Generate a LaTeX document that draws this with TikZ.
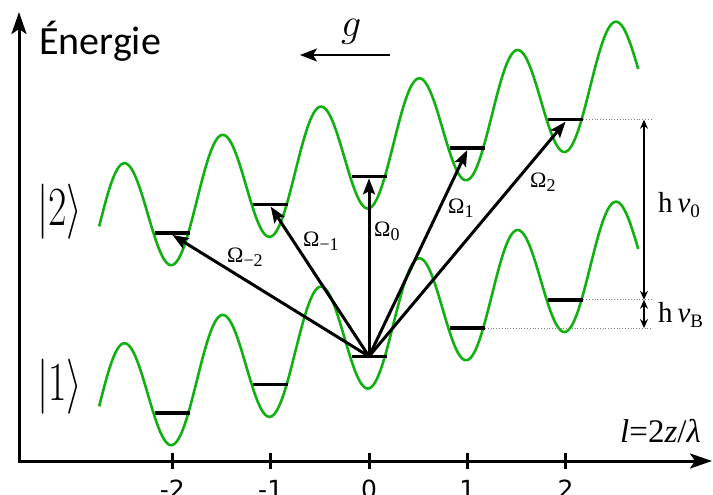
\documentclass[tikz,border=0pt]{standalone}
\usepackage{fix-cm}
\usepackage{fontspec}
\setmainfont{Liberation Serif}
\newfontfamily\carlito{Carlito}
\newfontfamily\dejavu{DejaVu Sans}
\usetikzlibrary{arrows.meta}
\definecolor{wavegreen}{RGB}{17,176,17}
\newcommand\lowsub[2]{#1\raisebox{-4pt}{\fontsize{18}{18}\selectfont #2}}
\begin{document}
\begin{tikzpicture}[x=1pt, y=-1pt,
  wave/.style={draw=wavegreen, line width=2.6pt},
  levelbar/.style={fill=black, inner sep=0pt, minimum width=35pt, minimum height=3.4pt},
  axisline/.style={line width=3pt, {Stealth[length=22pt,width=15pt,inset=5pt]}-{Stealth[length=22pt,width=15pt,inset=5pt]}},
  ticktick/.style={line width=3pt},
  transition/.style={line width=3pt, -{Stealth[length=16pt,width=12pt,inset=3pt]}},
  dimarrow/.style={line width=1.5pt, {Stealth[length=9pt,width=8pt]}-{Stealth[length=9pt,width=8pt]}},
  garrow/.style={line width=2pt, -{Stealth[length=17pt,width=13pt,inset=4pt]}},
  guide/.style={dotted, line width=0.8pt, gray},
  omega/.style={anchor=base west, inner sep=0pt, font=\fontsize{22}{22}\selectfont},
]
\useasboundingbox (0,0) rectangle (713,495);

% axes
\coordinate (O) at (19,461);
\coordinate (Ytop) at (19,12);
\coordinate (Xend) at (712,461);
\draw[axisline] (Ytop) -- (O) -- (Xend);

% ticks and tick labels
\foreach \u/\n in {-2/m2,-1/m1,0/z0,1/p1,2/p2} {
  \draw[ticktick] ({369+98.3*\u},453) -- ({369+98.3*\u},469);
  \node[font=\dejavu\fontsize{25}{25}\selectfont, anchor=base, inner sep=0pt] (tl\n) at ({369+98.3*\u},498) {\u};
}

% potential waves
\draw[wave] plot[domain=-2.745:2.74, samples=300] ({369+98.3*\x},{330.5-28.3*\x+57.9*cos(360*\x)});
\draw[wave] plot[domain=-2.745:2.74, samples=300] ({369+98.3*\x},{150.5-28.3*\x+57.9*cos(360*\x)});

% levels
\foreach \u/\n in {-2/m2,-1/m1,0/z0,1/p1,2/p2} {
  \node[levelbar] (L\n) at ({369+98.3*\u},{356.4-28.3*\u}) {};
  \node[levelbar] (U\n) at ({369+98.3*\u},{176.4-28.3*\u}) {};
}

% transitions
\draw[transition] (Lz0.center) -- (Um2.south);
\draw[transition] (Lz0.center) -- (Um1.south);
\draw[transition] (Lz0.center) -- (Uz0.south);
\draw[transition] (Lz0.center) -- (Up1.south);
\draw[transition] (Lz0.center) -- (Up2.south);

\node[omega] (om2) at (227,262) {\lowsub{Ω}{−2}};
\node[omega] (om1) at (303,246) {\lowsub{Ω}{−1}};
\node[omega] (oz0) at (374,236) {\lowsub{Ω}{0}};
\node[omega] (op1) at (448,213) {\lowsub{Ω}{1}};
\node[omega] (op2) at (530,187) {\lowsub{Ω}{2}};

% energy differences
\coordinate (vx) at (644,0);
\coordinate (dx) at (651,0);
\draw[guide] (Up2.east) -- (Up2 -| dx);
\draw[guide] (Lp2.east) -- (Lp2 -| dx);
\draw[guide] (Lp1.east) -- (Lp1 -| dx);
\draw[dimarrow] (Up2 -| vx) -- (Lp2 -| vx);
\draw[dimarrow] (Lp2 -| vx) -- (Lp1 -| vx);
\node[anchor=base west, inner sep=0pt, font=\fontsize{29}{29}\selectfont] (hnu0) at (658,212) {h\,{\itshape ν}\raisebox{-5pt}{\fontsize{19}{19}\selectfont 0}};
\node[anchor=base west, inner sep=0pt, font=\fontsize{29}{29}\selectfont] (hnuB) at (658,322) {h\,{\itshape ν}\raisebox{-5pt}{\fontsize{19}{19}\selectfont B}};

% state labels
\node[inner sep=0pt] (s2) at (60,212) {\scalebox{1}[1.38]{\fontsize{40}{40}\selectfont$|2\rangle$}};
\node[inner sep=0pt] (s1) at (60,387) {\scalebox{1}[1.38]{\fontsize{40}{40}\selectfont$|1\rangle$}};

% axis labels
\node[anchor=base west, inner sep=0pt, font=\carlito\fontsize{40}{40}\selectfont] (en) at (39,55) {Énergie};
\node[anchor=base east, inner sep=0pt, font=\fontsize{33}{33}\selectfont] (xl) at (701,442) {{\itshape l}=2{\itshape z}/{\itshape λ}};

% gravity
\coordinate (g1) at (390,55);
\coordinate (g0) at (300,55);
\draw[garrow] (g1) -- (g0);
\node[anchor=base west, inner sep=0pt, font=\fontsize{40}{40}\selectfont] (gl) at (341,37) {$g$};
\end{tikzpicture}
\end{document}
